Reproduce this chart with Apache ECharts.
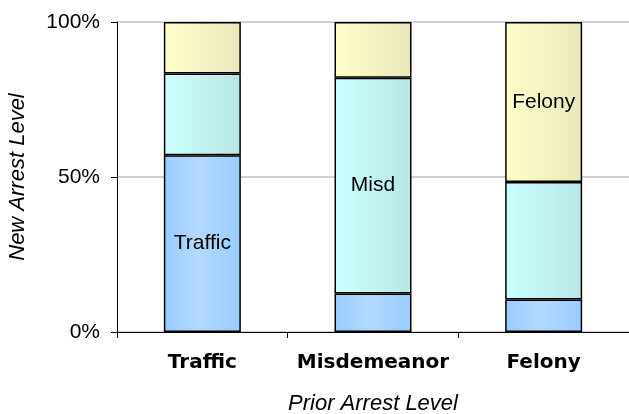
<!DOCTYPE html>
<html>
<head>
<meta charset="utf-8">
<style>
  html, body { margin: 0; padding: 0; background: #fff; }
  #chart { width: 629px; height: 414px; }
</style>
<script src="https://cdn.jsdelivr.net/npm/echarts@6/dist/echarts.min.js"></script>
</head>
<body>
<div id="chart"></div>
<script>
// Prior arrest level (x categories)
const categories = ['Traffic', 'Misdemeanor', 'Felony'];
// New arrest level segments, percent of each prior-arrest group
const seriesNames = ['Traffic', 'Misd', 'Felony'];
const trafficShare = [57.0, 12.4, 10.5];
const misdShare = [26.4, 69.6, 37.9];
const felonyShare = [16.6, 18.0, 51.6];
const yTicks = [0, 50, 100];

const shares = [trafficShare, misdShare, felonyShare];

function hGrad(stops) {
  return new echarts.graphic.LinearGradient(0, 0, 1, 0,
    stops.map(([o, c]) => ({ offset: o, color: c })));
}
const fills = [
  hGrad([[0, '#99ccff'], [0.45, '#b3d9ff'], [1, '#99ccff']]),
  hGrad([[0, '#ccffff'], [1, '#b8e6e6']]),
  hGrad([[0, '#ffffcc'], [1, '#e8e8bb']])
];

const font = '"Liberation Sans", Arial, sans-serif';

const series = seriesNames.map((name, si) => ({
  name: name,
  type: 'bar',
  stack: 'total',
  barWidth: 77,
  itemStyle: { color: fills[si], borderColor: '#000', borderWidth: 1.5 },
  // each group's own level is named inside its matching segment
  data: shares[si].map((v, ci) => ({
    value: v,
    label: {
      show: ci === si,
      position: 'inside',
      formatter: name,
      color: '#000',
      fontFamily: font,
      fontSize: 21
    }
  }))
}));

const chart = echarts.init(document.getElementById('chart'), null, { renderer: 'canvas' });
chart.setOption({
  animation: false,
  backgroundColor: '#fff',
  grid: { left: 117, right: 0, top: 22, bottom: 82, outerBoundsMode: 'none' },
  xAxis: {
    type: 'category',
    data: categories,
    name: 'Prior Arrest Level',
    nameLocation: 'middle',
    nameGap: 61,
    nameTextStyle: { fontFamily: font, fontSize: 22, fontStyle: 'italic', color: '#000' },
    axisLine: { lineStyle: { color: '#000', width: 1 } },
    axisTick: { show: true, length: 6, lineStyle: { color: '#000' } },
    axisLabel: {
      interval: 0,
      margin: 21,
      color: '#000',
      fontFamily: '"DejaVu Sans", sans-serif',
      fontWeight: 'bold',
      fontSize: 20
    }
  },
  yAxis: {
    type: 'value',
    min: yTicks[0],
    max: yTicks[yTicks.length - 1],
    interval: yTicks[1] - yTicks[0],
    name: 'New Arrest Level',
    nameLocation: 'middle',
    nameGap: 88,
    nameTextStyle: { fontFamily: font, fontSize: 22, fontStyle: 'italic', color: '#000' },
    axisLine: { show: true, lineStyle: { color: '#000', width: 1 } },
    axisTick: { show: true, length: 6, lineStyle: { color: '#000' } },
    axisLabel: {
      margin: 17,
      formatter: '{value}%',
      color: '#000',
      fontFamily: font,
      fontSize: 21
    },
    splitLine: { show: true, lineStyle: { color: '#c0c0c0', width: 1.5 } }
  },
  series: series
});
</script>
</body>
</html>
